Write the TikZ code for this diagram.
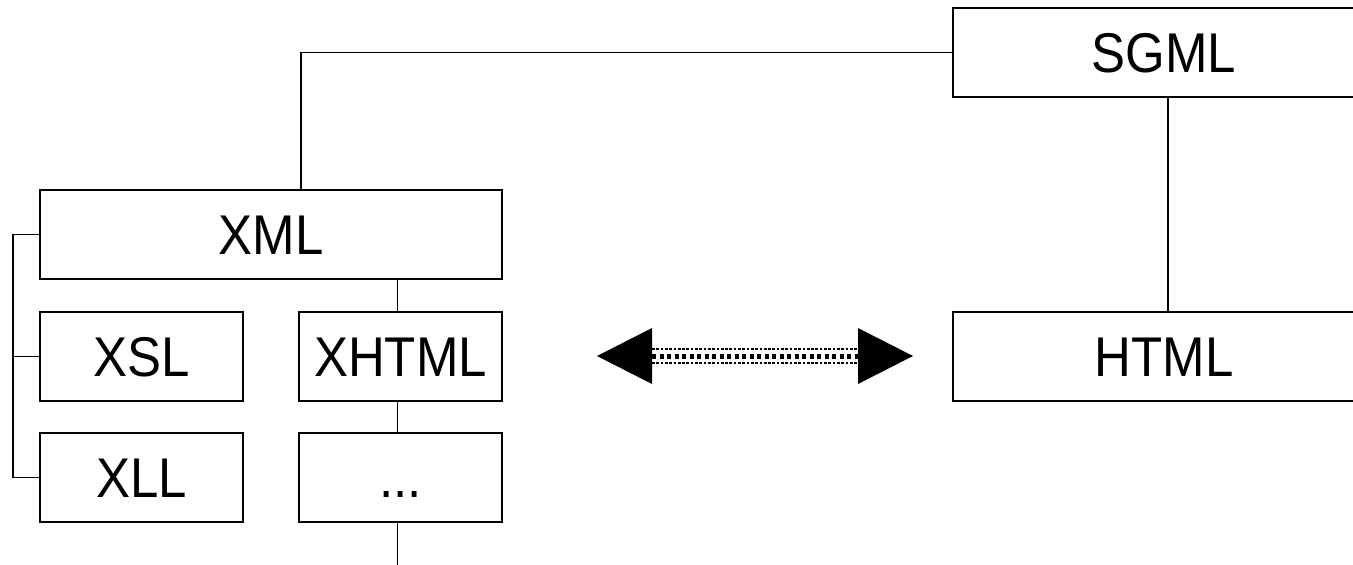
\documentclass[tikz,border=0pt]{standalone}
\usepackage{fontspec}
\setmainfont{Liberation Sans}[FakeStretch=0.91]
\begin{document}
\begin{tikzpicture}[x=1pt,y=-1pt,
  box/.style={draw=black,line width=1.5pt,inner sep=0pt,outer sep=0pt,
    minimum height=89pt,text height=40pt,text depth=0pt,
    font=\fontsize{56}{60}\selectfont},
  wide/.style={box,minimum width=462pt},
  small/.style={box,minimum width=203pt},
  big/.style={box,minimum width=422pt},
  conn/.style={line width=1.5pt},
  headfill/.style={fill=black},
  rowthin/.style={line width=1.8pt,dash pattern=on 2.7pt off 1.6pt},
  rowthick/.style={line width=5pt,dash pattern=on 4pt off 3.5pt}]
\useasboundingbox (0,0) rectangle (1353,565);
\clip (0,0) rectangle (1353,565);
\node[wide]  (xml)   at (271,234.5) {XML};
\node[small] (xsl)   at (141.5,356.5) {XSL};
\node[small] (xll)   at (141.5,477.5) {XLL};
\node[small] (xhtml) at (400.5,356.5) {XHTML};
\node[small] (dots)  at (400.5,477.5) {...};
\node[big]   (sgml)  at (1164,52.5) {SGML};
\node[big]   (html)  at (1164,356.5) {HTML};
% connectors
\draw[conn] ([xshift=30pt]xml.north) |- (sgml.west);
\draw[conn] ([xshift=4pt]sgml.south) -- ([xshift=4pt]html.north);
\draw[conn] ([xshift=-3pt]xml.south -| xhtml.north) -- ([xshift=-3pt]xhtml.north);
\draw[conn] ([xshift=-3pt]xhtml.south) -- ([xshift=-3pt]dots.north);
\coordinate (tail) at (397.5,565);
\draw[conn] ([xshift=-3pt]dots.south) -- (tail);
\draw[conn] (xml.west) -- ++(-27,0) |- (xll.west);
\draw[conn] (xsl.west) -- ++(-27,0);
% double arrow
\coordinate (la) at (597,356);
\coordinate (ra) at (913,356);
\fill[headfill] (la) -- ++(55,-28) -- ++(0,56) -- cycle;
\fill[headfill] (ra) -- ++(-55,-28) -- ++(0,56) -- cycle;
\draw[rowthin] ([xshift=55pt,yshift=-7pt]la) -- ([xshift=-55pt,yshift=-7pt]ra);
\draw[rowthick] ([xshift=55pt]la) -- ([xshift=-55pt]ra);
\draw[rowthin] ([xshift=55pt,yshift=7pt]la) -- ([xshift=-55pt,yshift=7pt]ra);
\end{tikzpicture}
\end{document}
